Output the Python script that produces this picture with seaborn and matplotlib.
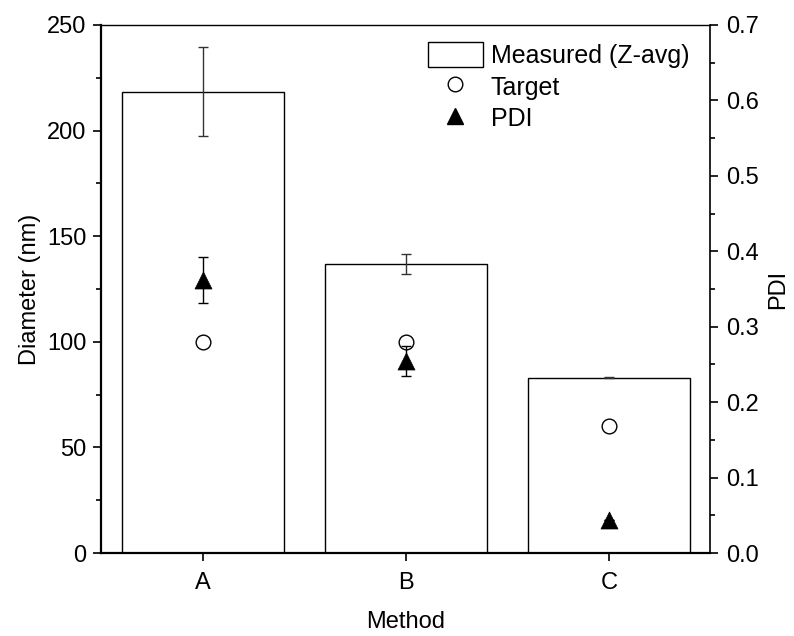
import matplotlib
matplotlib.use("Agg")
import matplotlib.pyplot as plt
from matplotlib.patches import Patch
from matplotlib.lines import Line2D
from matplotlib.ticker import MultipleLocator, FormatStrFormatter
import seaborn as sns
import pandas as pd

# Particle size results per preparation method
methods = ["A", "B", "C"]
measured = [218.5, 137.0, 83.0]      # Z-average diameter (nm)
measured_err = [21.0, 4.8, 0.3]
target = [100, 100, 60]              # target diameter (nm)
pdi = [0.362, 0.255, 0.044]          # polydispersity index
pdi_err = [0.031, 0.020, 0.0]

df = pd.DataFrame({"Method": methods, "Measured": measured,
                   "Target": target, "PDI": pdi})

sns.set_theme(style="ticks")
plt.rcParams["font.family"] = ["Liberation Sans", "DejaVu Sans"]
plt.rcParams["text.color"] = "black"
plt.rcParams["axes.labelcolor"] = "black"
plt.rcParams["xtick.color"] = "black"
plt.rcParams["ytick.color"] = "black"

fs_tick = 17
fs_label = 17
fs_legend = 18

fig = plt.figure(figsize=(7.94, 6.36), dpi=100)
ax = fig.add_axes([0.1278, 0.1305, 0.767, 0.8302])

sns.barplot(data=df, x="Method", y="Measured", color="white",
            edgecolor="black", linewidth=1.0, width=0.8, saturation=1,
            errorbar=None, ax=ax, zorder=1)
ax.errorbar(df["Method"], df["Measured"], yerr=measured_err, fmt="none",
            ecolor="#333333", elinewidth=1.0, capsize=3.3, capthick=1.0,
            zorder=2)
sns.scatterplot(data=df, x="Method", y="Target", marker="o", s=112,
                facecolor="white", edgecolor="black", linewidth=1.0,
                ax=ax, zorder=3, legend=False)

ax.set_xlim(-0.5, 2.5)
ax.set_ylim(0, 250)
ax.yaxis.set_major_locator(MultipleLocator(50))
ax.yaxis.set_minor_locator(MultipleLocator(25))
ax.set_xlabel("Method", fontsize=fs_label, labelpad=12, color="black")
ax.set_ylabel("Diameter (nm)", fontsize=fs_label, labelpad=4, color="black")

# Secondary axis for PDI
ax2 = ax.twinx()
ax2.errorbar(df["Method"], df["PDI"], yerr=pdi_err, fmt="none",
             ecolor="black", elinewidth=1.0, capsize=3.3, capthick=1.0,
             zorder=2)
sns.scatterplot(data=df, x="Method", y="PDI", marker="^", s=150,
                color="black", edgecolor="black", linewidth=0.5,
                ax=ax2, zorder=3, legend=False)
ax2.set_ylim(0, 0.7)
ax2.yaxis.set_major_locator(MultipleLocator(0.1))
ax2.yaxis.set_minor_locator(MultipleLocator(0.05))
ax2.yaxis.set_major_formatter(FormatStrFormatter("%.1f"))
ax2.set_ylabel("PDI", fontsize=fs_label, labelpad=6, color="black")

for a in (ax, ax2):
    a.tick_params(axis="both", which="major", direction="out", length=6,
                  width=1.2, labelsize=fs_tick, colors="black", pad=5)
    a.tick_params(axis="y", which="minor", direction="out", length=3.5,
                  width=1.2, colors="black")
    a.set_facecolor("none")

ax.tick_params(axis="x", which="minor", bottom=False)
ax.tick_params(axis="x", pad=8)
ax.spines["left"].set_linewidth(1.6)
ax.spines["bottom"].set_linewidth(1.6)
ax.spines["top"].set_linewidth(1.0)
ax.spines["right"].set_visible(False)
for s in ("left", "bottom", "top"):
    ax2.spines[s].set_visible(False)
ax2.spines["right"].set_visible(True)
ax2.spines["right"].set_linewidth(1.2)
for s in ax.spines.values():
    s.set_color("black")
ax2.spines["right"].set_color("black")

handles = [
    Patch(facecolor="white", edgecolor="black", linewidth=1.0),
    Line2D([], [], marker="o", linestyle="none", markerfacecolor="white",
           markeredgecolor="black", markersize=10.5, markeredgewidth=1.0),
    Line2D([], [], marker="^", linestyle="none", color="black",
           markersize=12),
]
labels = ["Measured (Z-avg)", "Target", "PDI"]
leg = ax2.legend(handles, labels, loc="upper left",
                 bbox_to_anchor=(427.7 / 794, 1 - 42.0 / 636),
                 bbox_transform=fig.transFigure, frameon=False,
                 fontsize=fs_legend, handlelength=2.2, handleheight=1.16,
                 handletextpad=0.32, labelspacing=0.23, borderpad=0,
                 borderaxespad=0)
for t in leg.get_texts():
    t.set_color("black")

fig.savefig("out.png", dpi=100)
